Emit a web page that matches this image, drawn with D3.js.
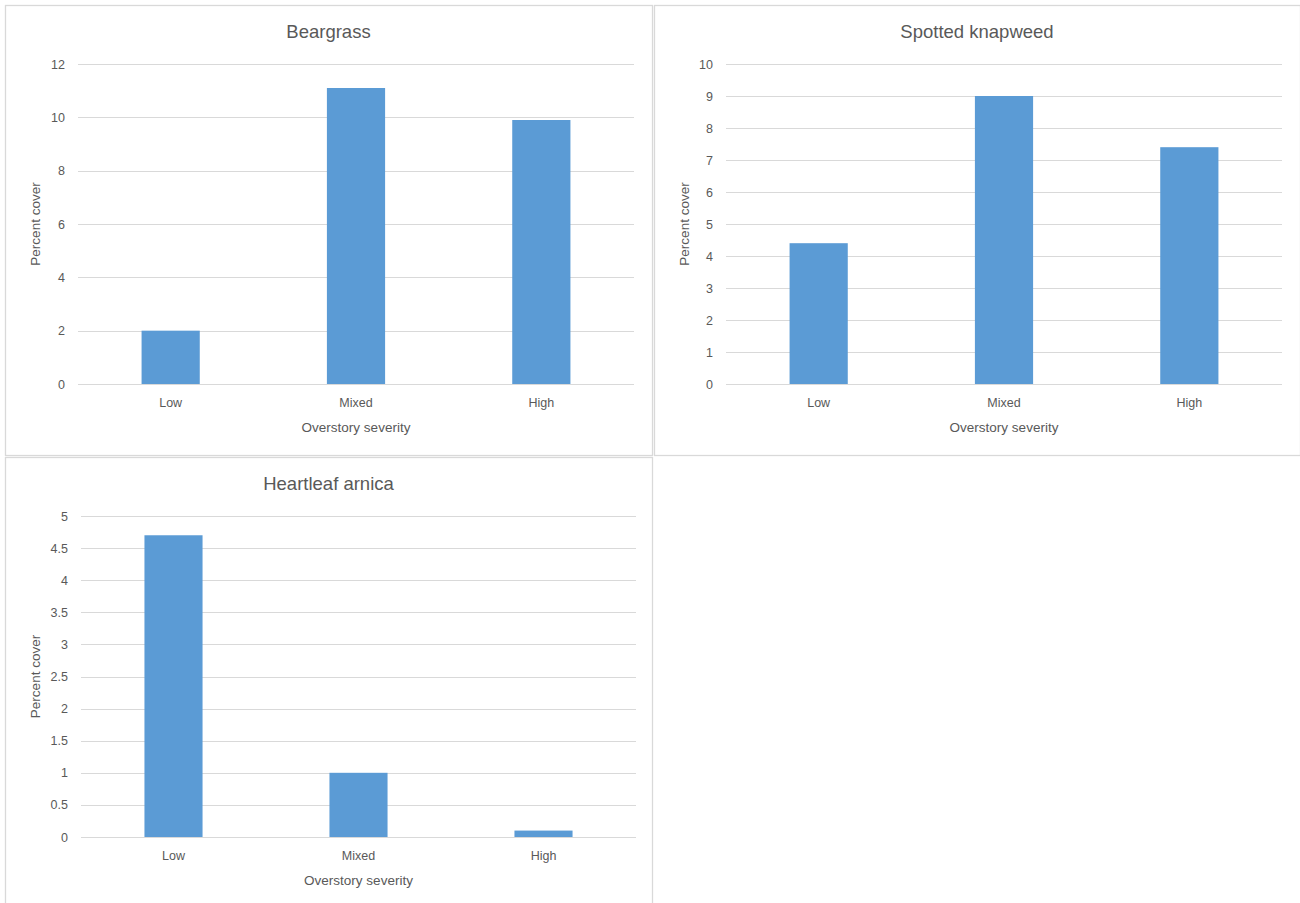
<!DOCTYPE html>
<html>
<head>
<meta charset="utf-8">
<script src="https://cdn.jsdelivr.net/npm/d3@7"></script>
<style>
  html, body { margin: 0; padding: 0; background: #ffffff; }
  svg { display: block; }
  text { font-family: "Liberation Sans", Arial, sans-serif; fill: #595959; }
</style>
</head>
<body>
<svg id="chart" width="1300" height="903"></svg>
<script>
const categories = ["Low", "Mixed", "High"];
const titles = ["Beargrass", "Spotted knapweed", "Heartleaf arnica"];
const beargrassValues = [2.0, 11.1, 9.9];
const knapweedValues = [4.4, 9.0, 7.4];
const arnicaValues = [4.7, 1.0, 0.1];
const beargrassTicks = [0, 2, 4, 6, 8, 10, 12];
const knapweedTicks = [0, 1, 2, 3, 4, 5, 6, 7, 8, 9, 10];
const arnicaTicks = [0, 0.5, 1, 1.5, 2, 2.5, 3, 3.5, 4, 4.5, 5];
const xAxisTitle = "Overstory severity";
const yAxisTitle = "Percent cover";

const svg = d3.select("#chart");

const panels = [
  { title: titles[0], values: beargrassValues, ticks: beargrassTicks,
    box: [5, 5, 647, 450], plot: [78, 64, 634, 384], titleY: 38 },
  { title: titles[1], values: knapweedValues, ticks: knapweedTicks,
    box: [654, 5, 646, 450], plot: [726, 64, 1282, 384], titleY: 38 },
  { title: titles[2], values: arnicaValues, ticks: arnicaTicks,
    box: [5, 457, 647, 450], plot: [81, 516, 636, 837], titleY: 490 }
];

panels.forEach(p => {
  const g = svg.append("g");
  const [bx, by, bw, bh] = p.box;
  g.append("rect")
    .attr("x", bx + 0.5).attr("y", by + 0.5)
    .attr("width", bw).attr("height", bh)
    .attr("fill", "#ffffff").attr("stroke", "#d9d9d9").attr("stroke-width", 1.3);

  const [x0, y0, x1, y1] = p.plot;
  const x = d3.scaleBand().domain(categories).range([x0, x1]).paddingInner(0.686).paddingOuter(0.343);
  const y = d3.scaleLinear().domain([0, d3.max(p.ticks)]).range([y1, y0]);

  // gridlines
  g.append("g").selectAll("line").data(p.ticks).join("line")
    .attr("x1", x0).attr("x2", x1)
    .attr("y1", d => Math.round(y(d)) + 0.5).attr("y2", d => Math.round(y(d)) + 0.5)
    .attr("stroke", "#d9d9d9").attr("stroke-width", 1);

  // y axis labels
  const yAxis = d3.axisLeft(y).tickValues(p.ticks).tickSize(0).tickPadding(13)
    .tickFormat(d => String(d));
  const ya = g.append("g").attr("transform", `translate(${x0},0)`).call(yAxis);
  ya.select(".domain").remove();
  ya.selectAll("text").attr("font-size", 12.5).attr("fill", "#595959")
    .style("font-family", "'Liberation Sans', Arial, sans-serif");

  // bars
  g.append("g").selectAll("rect").data(p.values).join("rect")
    .attr("x", (d, i) => x(categories[i]))
    .attr("width", x.bandwidth())
    .attr("y", d => y(d))
    .attr("height", d => y(0) - y(d))
    .attr("fill", "#5b9bd5");

  // baseline
  g.append("line").attr("x1", x0).attr("x2", x1)
    .attr("y1", Math.round(y(0)) + 0.5).attr("y2", Math.round(y(0)) + 0.5)
    .attr("stroke", "#d9d9d9").attr("stroke-width", 1);

  const xAxis = d3.axisBottom(x).tickSize(0).tickPadding(14);
  const xa = g.append("g").attr("transform", `translate(0,${y1})`).call(xAxis);
  xa.select(".domain").remove();
  xa.selectAll("text").attr("font-size", 12.5).attr("fill", "#595959")
    .style("font-family", "'Liberation Sans', Arial, sans-serif");

  // x axis title
  g.append("text")
    .attr("x", (x0 + x1) / 2).attr("y", y1 + 48)
    .attr("text-anchor", "middle").attr("font-size", 13.5)
    .text(xAxisTitle);

  // y axis title
  g.append("text")
    .attr("transform", `translate(${bx + 31},${(y0 + y1) / 2}) rotate(-90)`)
    .attr("text-anchor", "middle").attr("dominant-baseline", "middle")
    .attr("font-size", 13.5)
    .text(yAxisTitle);

  // chart title (centred on the panel box)
  g.append("text")
    .attr("x", bx + bw / 2).attr("y", p.titleY)
    .attr("text-anchor", "middle").attr("font-size", 18.5)
    .text(p.title);
});
</script>
</body>
</html>
